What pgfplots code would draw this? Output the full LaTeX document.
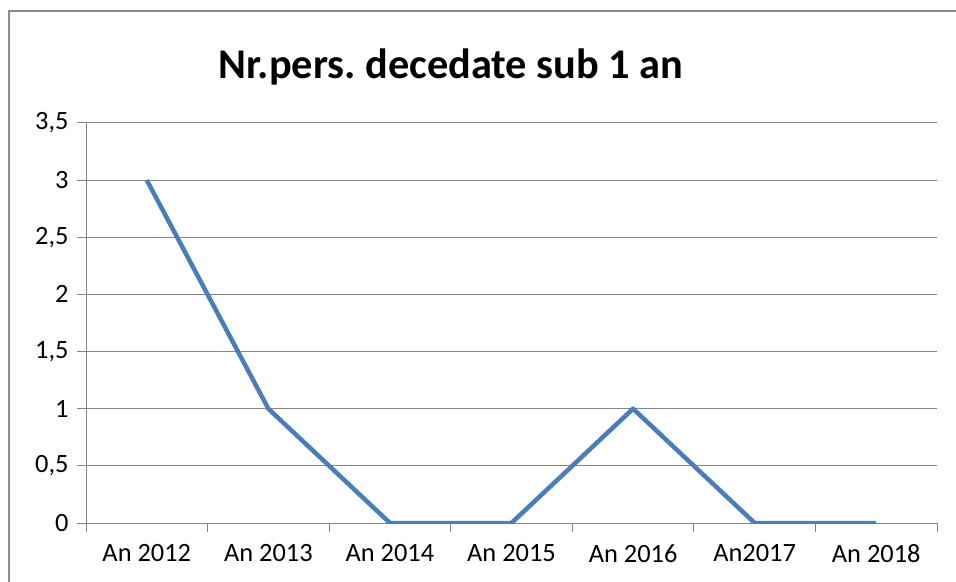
\documentclass[border=0pt]{standalone}
\usepackage{fontspec}
\setmainfont{Carlito}
\usepackage{pgfplots}
\pgfplotsset{compat=1.18}
\definecolor{xlblue}{HTML}{4A7EBB}
\definecolor{xlgrid}{HTML}{868686}
\definecolor{xlframe}{HTML}{8C8C8C}

\begin{document}
\frenchspacing
\begin{tikzpicture}
% page = 956 x 582 px, 1 px = 1 bp, axis box lower left at pixel (86,523)
\useasboundingbox (-86bp,-59bp) rectangle (870bp,523bp);
\draw[xlframe, line width=2bp] (-77bp,-60bp) -- (-77bp,512bp) -- (871bp,512bp);

\begin{axis}[
    scale only axis,
    width=851bp,
    height=400bp,
    xmin=-0.5, xmax=6.5,
    ymin=0, ymax=3.5,
    axis x line*=bottom,
    axis y line*=left,
    axis line style={xlgrid, line width=1bp},
    xtick={0,...,6},
    xticklabels={An 2012, An 2013, An 2014, An 2015, An 2016, An2017, An 2018},
    major x tick style={draw=none},
    minor xtick={-0.5,0.5,...,6.5},
    minor x tick style={xlgrid, line width=1bp},
    minor tick length=9bp,
    ytick={0,0.5,...,3.5},
    major y tick style={xlgrid, line width=1bp},
    major tick length=9bp,
    tick align=outside,
    ymajorgrids,
    grid style={xlgrid, line width=1bp},
    /pgf/number format/assume math mode=true,
    /pgf/number format/use comma,
    /pgf/number format/fixed,
    ticklabel style={font=\fontsize{26.5}{30}\selectfont, text=black},
    yticklabel style={xshift=-5bp},
    xticklabel style={yshift=-9bp},
]
\addplot[xlblue, line width=4.5bp, line join=round, mark=none] coordinates {
    (0,3) (1,1) (2,0) (3,0) (4,1) (5,0) (6,0)
};
\end{axis}

\node[anchor=base, font=\fontsize{42.5}{48}\selectfont\bfseries] at (365bp,444bp) {Nr.pers. decedate sub 1 an};
\end{tikzpicture}
\end{document}
